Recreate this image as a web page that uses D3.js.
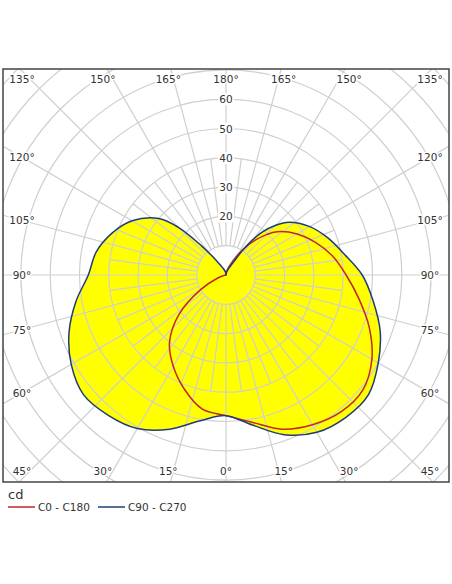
<!DOCTYPE html>
<html><head><meta charset="utf-8">
<script src="https://cdn.jsdelivr.net/npm/d3@7"></script>
<style>body{margin:0;background:#fff}text{font-family:"DejaVu Sans",Verdana,sans-serif}</style>
</head><body><svg id="c" width="452" height="584"></svg>
<script>
const angles = [0,10,20,30,40,50,60,70,80,90,100,110,120,130,135,140,145,150,160,170,180];
const c90Left  = [48,50.5,56,60.5,62.5,63.5,61,57,52,47,45,41.5,37,30,23,13,7,4,2,1,0];
const c90Right = [48,52,58,62,63.5,63.5,60,56,51,46.5,41,37,33,28,24,19,12,5,2,1,0];
const c0Right  = [48,51,56,59,61,61,57.5,52,46,41,37,32.5,28,23,19.5,15.5,11.5,8,3,1,0];
const c0Left   = [48,46.5,41.5,36,30,21,10,3,0.5,0,0,0,0,0,0,0,0,0,0,0,0];
const ringValues = [10,20,30,40,50,60,70,80,90,100,110];
const ringLabels = [20,30,40,50,60];
const angleLabels = [0,15,30,45,60,75,90,105,120,135,150,165,180];
const legendNames = ["C0 - C180","C90 - C270"];

const svg = d3.select("#c");
const cx = 226, cy = 275;
const fr = {x:3, y:69, w:446, h:413};
const r = d3.scaleLinear().domain([0,10]).range([0,29.3]);
const rad = d => d*Math.PI/180;

svg.append("clipPath").attr("id","fc").append("rect").attr("x",fr.x).attr("y",fr.y).attr("width",fr.w).attr("height",fr.h);
const g = svg.append("g").attr("clip-path","url(#fc)");
const p = g.append("g").attr("transform",`translate(${cx},${cy})`);

function pts(right,left){
  const a=[];
  angles.forEach((t,i)=>a.push([Math.PI-rad(t), r(right[i])]));
  for(let i=angles.length-2;i>0;i--) a.push([Math.PI+rad(angles[i]), r(left[i])]);
  return a;
}
const line = d3.lineRadial().curve(d3.curveCatmullRomClosed.alpha(0.5));

p.append("path").attr("d",line(pts(c90Right,c90Left))).attr("fill","#ffff00");
const grid="#cfcfcf";
ringValues.forEach(v=>p.append("circle").attr("r",r(v)).attr("fill","none").attr("stroke",grid).attr("stroke-width",1.2));
d3.range(0,360,7.5).forEach(a=>{
  const s=Math.sin(rad(a)), c=Math.cos(rad(a));
  const end = (a%15===0) ? 400 : r(40);
  p.append("line").attr("x1",r(10)*s).attr("y1",r(10)*c).attr("x2",end*s).attr("y2",end*c)
   .attr("stroke",grid).attr("stroke-width",1.2);
});
p.append("path").attr("d",line(pts(c0Right,c0Left))).attr("fill","none").attr("stroke","#c0262c").attr("stroke-width",1.5);
p.append("path").attr("d",line(pts(c90Right,c90Left))).attr("fill","none").attr("stroke","#1f3c78").attr("stroke-width",1.5);
ringLabels.forEach(v=>{
  p.append("rect").attr("x",-8).attr("y",-r(v)-6).attr("width",16).attr("height",12).attr("fill","#fff");
  p.append("text").attr("x",0).attr("y",-r(v)+4).attr("text-anchor","middle").attr("font-size",10.5).attr("fill","#333").text(v);
});
const inset={l:22,r:430,t:79,b:471};
angleLabels.forEach(t=>{
  [1,-1].forEach(side=>{
    if((t===0||t===180)&&side===-1) return;
    const dx=side*Math.sin(rad(t)), dy=Math.cos(rad(t));
    let x,y;
    if(Math.abs(dx)<1e-9){x=cx;y=dy>0?inset.b:inset.t;}
    else{
      const kx=(side>0?inset.r-cx:cx-inset.l)/Math.abs(dx);
      const ky=(dy>0?inset.b-cy:cy-inset.t)/Math.max(Math.abs(dy),1e-9);
      if(kx<=ky){x=side>0?inset.r:inset.l;y=cy+dy*kx;}
      else{x=cx+dx*ky;y=dy>0?inset.b:inset.t;x+=side*10*Math.min(1,Math.abs(dx)*2);x=Math.max(inset.l,Math.min(inset.r,x));}
    }
    svg.append("text").attr("x",x).attr("y",y+4).attr("text-anchor","middle").attr("font-size",10.5)
      .attr("fill","#333").attr("stroke","#fff").attr("stroke-width",3).attr("paint-order","stroke").text(t+"°");
  });
});
svg.append("rect").attr("x",fr.x).attr("y",fr.y).attr("width",fr.w).attr("height",fr.h).attr("fill","none").attr("stroke","#444").attr("stroke-width",1.5);
svg.append("text").attr("x",8).attr("y",499).attr("font-size",13).attr("fill","#333").text("cd");
const lc=["#c0262c","#1f3c78"], lx=[8,98];
legendNames.forEach((n,i)=>{
  svg.append("line").attr("x1",lx[i]).attr("x2",lx[i]+27).attr("y1",507).attr("y2",507).attr("stroke",lc[i]).attr("stroke-width",1.5);
  svg.append("text").attr("x",lx[i]+30).attr("y",511).attr("font-size",10.5).attr("fill","#333").text(n);
});
</script></body></html>
